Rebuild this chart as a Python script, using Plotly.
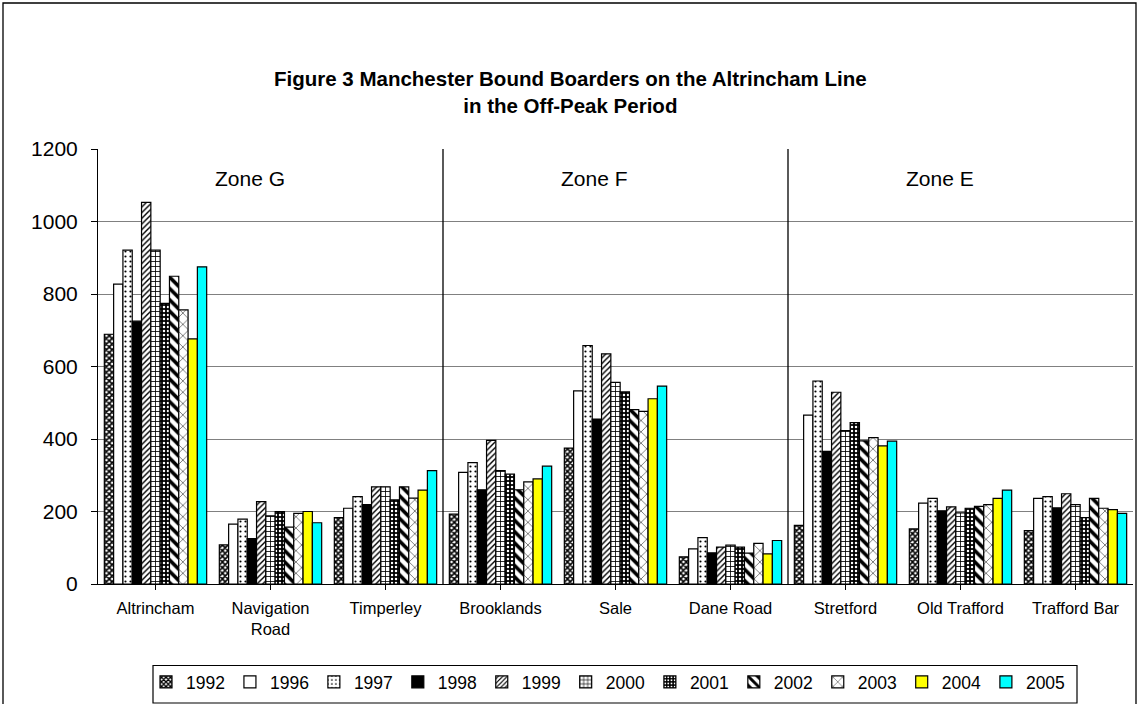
import plotly.graph_objects as go

stations = ["Altrincham", "Navigation<br>Road", "Timperley", "Brooklands", "Sale",
            "Dane Road", "Stretford", "Old Trafford", "Trafford Bar"]
years = ["1992", "1996", "1997", "1998", "1999", "2000", "2001", "2002", "2003", "2004", "2005"]

v1992 = [689, 108, 183, 193, 375, 75, 162, 152, 147]
v1996 = [827, 165, 209, 308, 533, 97, 466, 223, 236]
v1997 = [921, 179, 241, 335, 658, 128, 560, 236, 241]
v1998 = [725, 125, 219, 260, 455, 86, 366, 202, 210]
v1999 = [1053, 227, 268, 396, 635, 102, 529, 213, 249]
v2000 = [921, 188, 268, 313, 556, 107, 423, 196, 219]
v2001 = [774, 200, 232, 303, 530, 102, 445, 209, 183]
v2002 = [849, 157, 268, 260, 481, 85, 395, 214, 236]
v2003 = [756, 195, 237, 282, 476, 112, 404, 219, 209]
v2004 = [676, 200, 259, 290, 511, 83, 381, 236, 205]
v2005 = [875, 169, 313, 325, 546, 120, 394, 259, 195]

series = [v1992, v1996, v1997, v1998, v1999, v2000, v2001, v2002, v2003, v2004, v2005]

zones = ["Zone G", "Zone F", "Zone E"]
zone_label_pos = [0.82, 3.82, 6.82]
zone_dividers = [2.5, 5.5]

styles = [
    dict(color="white", pattern=dict(shape="x", fgcolor="black", bgcolor="white", size=4, solidity=0.65, fillmode="replace")),
    dict(color="white"),
    dict(color="white", pattern=dict(shape=".", fgcolor="black", bgcolor="white", size=5, solidity=0.15, fillmode="replace")),
    dict(color="black"),
    dict(color="white", pattern=dict(shape="/", fgcolor="black", bgcolor="white", size=4, solidity=0.35, fillmode="replace")),
    dict(color="white", pattern=dict(shape="+", fgcolor="black", bgcolor="white", size=5, solidity=0.3, fillmode="replace")),
    dict(color="black", pattern=dict(shape=".", fgcolor="white", bgcolor="black", size=4, solidity=0.3, fillmode="replace")),
    dict(color="white", pattern=dict(shape="\\", fgcolor="black", bgcolor="white", size=8, solidity=0.45, fillmode="replace")),
    dict(color="white", pattern=dict(shape="x", fgcolor="black", bgcolor="white", size=8, solidity=0.12, fillmode="replace")),
    dict(color="#FFFF00"),
    dict(color="#00FFFF"),
]

fig = go.Figure()
for yr, vals, st in zip(years, series, styles):
    marker = dict(color=st["color"], line=dict(color="black", width=1.2))
    if "pattern" in st:
        marker["pattern"] = st["pattern"]
    fig.add_trace(go.Bar(name=yr, x=list(range(len(stations))), y=vals, marker=marker))

W, H = 1139, 704
L, R, T, B = 98, 6, 149, 120
pw, ph = W - L - R, H - T - B

def px_x(p):
    return (p - L) / pw

def px_y(p):
    return (H - B - p) / ph

shapes = []
for d in zone_dividers:
    shapes.append(dict(type="line", xref="x", yref="y", x0=d, x1=d, y0=0, y1=1200,
                       line=dict(color="black", width=1.3)))
# outer chart frame
shapes.append(dict(type="rect", xref="paper", yref="paper",
                   x0=px_x(3), x1=px_x(1136), y0=px_y(712), y1=px_y(3),
                   line=dict(color="black", width=1.3), layer="below"))
# legend frame
shapes.append(dict(type="rect", xref="paper", yref="paper",
                   x0=px_x(153), x1=px_x(1077), y0=px_y(703), y1=px_y(665.5),
                   line=dict(color="black", width=1.2), layer="below"))

annotations = [dict(text=z, x=xp, y=1120, xref="x", yref="y", showarrow=False,
                    font=dict(size=21, color="black"))
               for z, xp in zip(zones, zone_label_pos)]
annotations.append(dict(text="<b>Figure 3 Manchester Bound Boarders on the Altrincham Line<br>in the Off-Peak Period</b>",
                        x=px_x(570), y=px_y(92), xref="paper", yref="paper", showarrow=False,
                        xanchor="center", yanchor="middle",
                        font=dict(size=20.5, color="black"), align="center"))

fig.update_layout(
    width=W, height=H,
    margin=dict(l=L, r=R, t=T, b=B, autoexpand=False),
    paper_bgcolor="white", plot_bgcolor="white",
    font=dict(family="Liberation Sans, Arial, sans-serif", color="black"),
    barmode="group", bargap=0.11, bargroupgap=0,
    shapes=shapes, annotations=annotations,
    showlegend=True,
    legend=dict(orientation="h", x=px_x(146), xanchor="left", y=px_y(664), yanchor="top",
                bgcolor="rgba(0,0,0,0)", borderwidth=0, font=dict(size=17.5),
                itemwidth=30, tracegroupgap=0, traceorder="normal"),
    xaxis=dict(tickmode="array", tickvals=list(range(len(stations))), ticktext=stations,
               range=[-0.5, len(stations) - 0.5], showline=True, linecolor="black", linewidth=1,
               ticks="outside", tickson="boundaries", ticklen=5, tickcolor="black",
               tickfont=dict(size=16.5), ticklabelstandoff=4, showgrid=False),
    yaxis=dict(range=[0, 1200], dtick=200, showline=True, linecolor="black", linewidth=1,
               ticks="outside", ticklen=6, tickcolor="black", tickfont=dict(size=21),
               ticklabelstandoff=9,
               showgrid=True, gridcolor="#808080", gridwidth=1, zeroline=False),
)

fig.write_html("out.html", post_script="document.body.style.margin='0';",
               config={"displayModeBar": False})
